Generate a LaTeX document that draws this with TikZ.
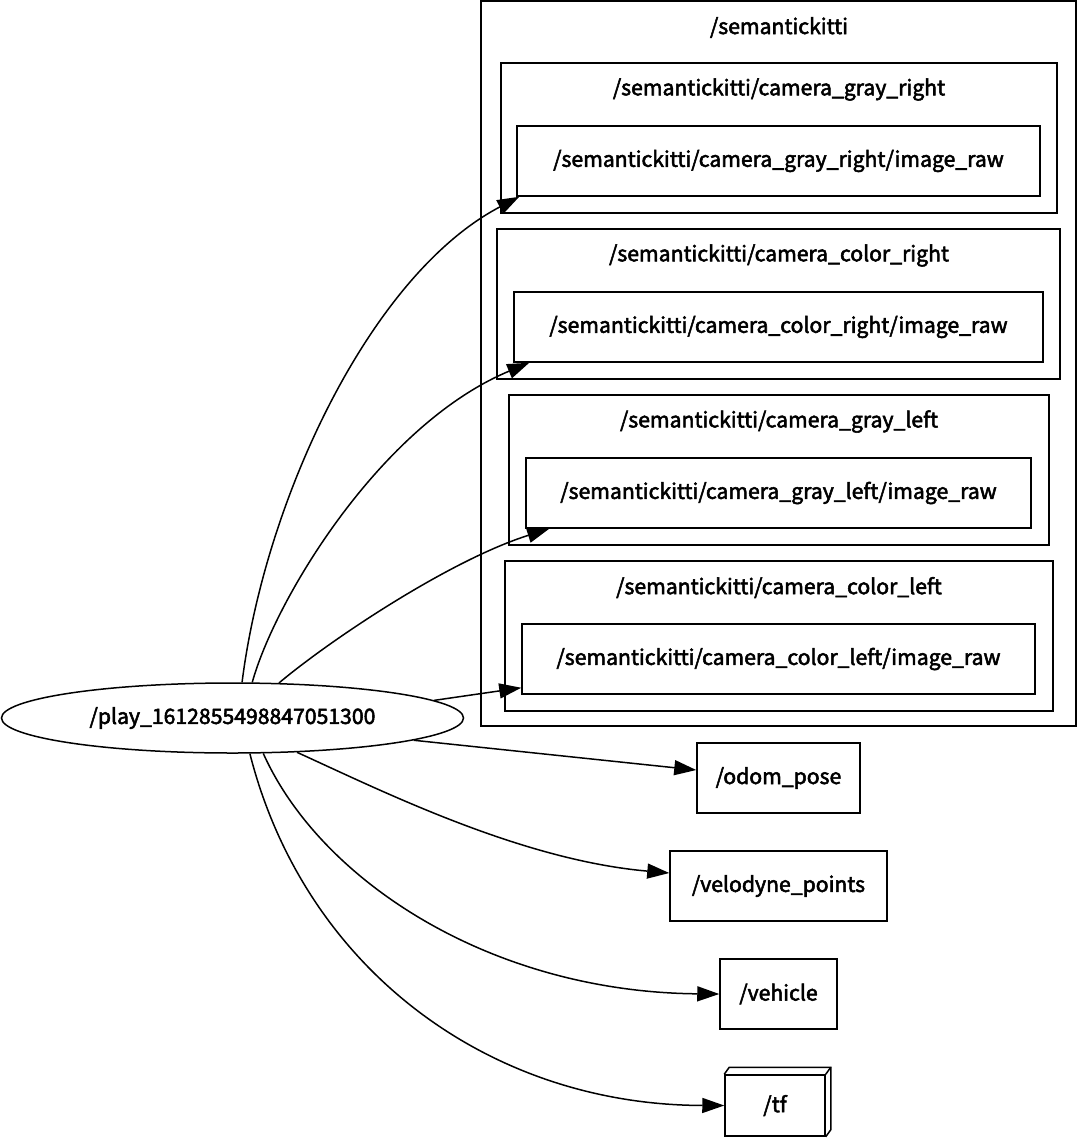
\documentclass[tikz,border=0pt]{standalone}
\usepackage{fontspec}
\setmainfont[FakeBold=2.5]{Noto Sans CJK SC}
\usetikzlibrary{arrows.meta,shapes.geometric,calc}
\begin{document}
\begin{tikzpicture}[x=1pt,y=-1pt,
  font=\fontsize{21.2}{25}\selectfont,
  box/.style={draw, line width=1.5pt, rectangle, inner sep=0pt},
  lbl/.style={inner sep=0pt, anchor=center},
  edge/.style={draw, line width=1.5pt, -{Triangle[length=22pt,width=15pt]}}]
\useasboundingbox (0,0) rectangle (1078,1138);

% clusters
\node[box, minimum width=595, minimum height=725] (sk) at (778.5,363.5) {};
\node[lbl] (skl) at (779,27.5) {/semantickitti};
\node[box, minimum width=556, minimum height=150] (cgr) at (779,138) {};
\node[lbl] (cgrl) at (779,89.5) {/semantickitti/camera\_gray\_right};
\node[box, minimum width=563, minimum height=150] (ccr) at (778.5,304) {};
\node[lbl] (ccrl) at (779,255.5) {/semantickitti/camera\_color\_right};
\node[box, minimum width=540, minimum height=150] (cgl) at (779,470) {};
\node[lbl] (cgll) at (779,421.5) {/semantickitti/camera\_gray\_left};
\node[box, minimum width=548, minimum height=150] (ccl) at (779,636) {};
\node[lbl] (ccll) at (779,587.5) {/semantickitti/camera\_color\_left};

% topics
\node[box, minimum width=523, minimum height=70] (grn) at (778.5,161) {/semantickitti/camera\_gray\_right/image\_raw};
\node[box, minimum width=529, minimum height=70] (crn) at (778.5,327) {/semantickitti/camera\_color\_right/image\_raw};
\node[box, minimum width=505, minimum height=70] (gln) at (778.5,493) {/semantickitti/camera\_gray\_left/image\_raw};
\node[box, minimum width=513, minimum height=70] (cln) at (778.5,659) {/semantickitti/camera\_color\_left/image\_raw};
\node[box, minimum width=163, minimum height=70] (odom) at (778.5,778) {/odom\_pose};
\node[box, minimum width=217, minimum height=70] (velo) at (778.5,886) {/velodyne\_points};
\node[box, minimum width=117, minimum height=70] (veh) at (778.5,994) {/vehicle};
\node[box, minimum width=100, minimum height=61] (tf) at (775,1105.5) {/tf};
\draw[line width=1.5pt] (tf.north west) -- ++(5,-7) -- ($(tf.north east)+(5,-7)$) -- ($(tf.south east)+(5,-7)$) -- (tf.south east);
\draw[line width=1.5pt] (tf.north east) -- ++(5,-7);

% node
\node[draw, line width=1.5pt, ellipse, minimum width=462, minimum height=70, inner sep=0pt] (play) at (232.5,718) {/play\_1612855498847051300};

% edges
\draw[edge] (play.75) .. controls (265,500) and (370,275) .. ($(grn.south west)+(3,0)$);
\draw[edge] (play.61) .. controls (275,600) and (380,425) .. ($(crn.south west)+(16,0)$);
\draw[edge] (play.37) .. controls (330,640) and (450,560) .. ($(gln.south west)+(24,0)$);
\draw[edge] (play.5) -- ($(cln.south west)+(0,-7)$);
\draw[edge] (play.-7) -- ($(odom.west)+(0,-8)$);
\draw[edge] (play.-28) .. controls (380,790) and (520,860) .. ($(velo.west)+(0,-13)$);
\draw[edge] (play.-49) .. controls (320,880) and (490,992) .. (veh.west);
\draw[edge] (play.-64) .. controls (305,970) and (490,1105) .. (tf.west);
\end{tikzpicture}
\end{document}
